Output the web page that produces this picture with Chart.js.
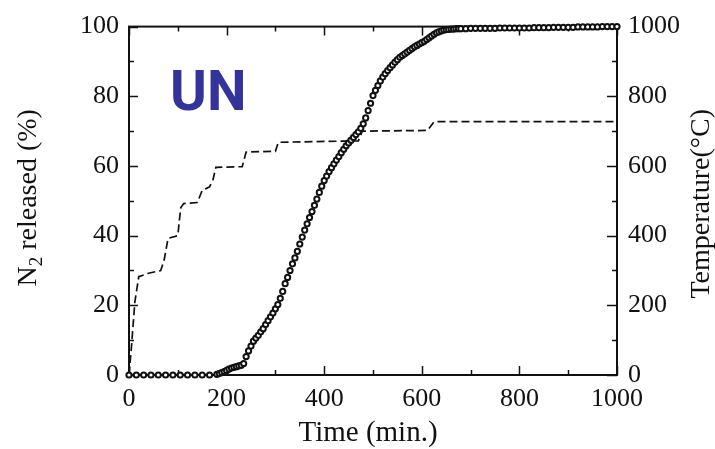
<!DOCTYPE html>
<html>
<head>
<meta charset="utf-8">
<script src="https://cdn.jsdelivr.net/npm/chart.js@4/dist/chart.umd.min.js"></script>
<style>
  html, body { margin: 0; padding: 0; background: #fff; }
  canvas { display: block; }
</style>
</head>
<body>
<canvas id="chart" width="715" height="449"></canvas>
<script>
// Nitrogen release of UN, cumulative percent, sampled against time (min)
const releaseTimes = [
  0, 15, 30, 45, 60, 75, 90, 105, 120, 135, 150, 165,
  180, 185, 190, 195, 200, 205, 210, 215, 220, 225, 230, 235, 240, 245, 250, 255,
  260, 265, 270, 275, 280, 285, 290, 295, 300, 305, 310, 315, 320, 325, 330, 335,
  340, 345, 350, 355, 360, 365, 370, 375, 380, 385, 390, 395, 400, 405, 410, 415,
  420, 425, 430, 435, 440, 445, 450, 455, 460, 465, 470, 475, 480, 485, 490, 495,
  500, 505, 510, 515, 520, 525, 530, 535, 540, 545, 550, 555, 560, 565, 570, 575,
  580, 585, 590, 595, 600, 605, 610, 615, 620, 625, 630, 635, 640, 645, 650, 655,
  660, 665, 670, 675, 680,
  690, 700, 710, 720, 730, 740, 750, 760, 770, 780, 790, 800, 810, 820, 830, 840,
  850, 860, 870, 880, 890, 900, 910, 920, 930, 940, 950, 960, 970, 980, 990, 1000
];
const releaseValues = [
  0, 0, 0, 0, 0, 0, 0, 0, 0, 0, 0, 0,
  0.2, 0.4, 0.7, 1.0, 1.3, 1.7, 2.0, 2.2, 2.4, 2.6, 2.8, 3.3, 5.3, 6.9, 8.3, 9.7,
  10.6, 11.4, 12.4, 13.3, 14.5, 15.6, 16.7, 17.8, 19.0, 20.2, 22.0, 24.0, 26.2, 28.0, 30.0, 31.9,
  33.6, 35.5, 37.6, 39.6, 41.6, 43.4, 45.2, 46.9, 48.7, 50.5, 52.4, 54.2, 55.8, 57.1, 58.4, 59.5,
  60.6, 61.7, 62.7, 63.8, 64.8, 65.8, 66.6, 67.4, 68.2, 69.0, 69.8, 70.8, 72.1, 73.8, 75.9, 78.0,
  80.2, 81.7, 83.1, 84.4, 85.5, 86.5, 87.4, 88.2, 89.0, 89.8, 90.5, 91.2, 91.7, 92.2, 92.7, 93.2,
  93.7, 94.2, 94.6, 95.0, 95.4, 95.8, 96.3, 96.8, 97.3, 97.8, 98.2, 98.5, 98.8, 99.0, 99.1, 99.2,
  99.3, 99.3, 99.4, 99.4, 99.4,
  99.4, 99.5, 99.5, 99.5, 99.5, 99.5, 99.5, 99.6, 99.6, 99.6, 99.6, 99.6, 99.6, 99.6, 99.7, 99.7,
  99.7, 99.7, 99.8, 99.8, 99.8, 99.8, 99.8, 99.9, 99.9, 99.9, 99.9, 99.9, 100, 100, 100, 100
];

// Furnace temperature programme (°C) against time (min)
const tempTimes  = [0, 5, 12, 20, 40, 65, 72, 80, 100, 106, 112, 140, 150, 165, 172, 178, 232, 240, 300, 306, 470, 478, 612, 625, 1000];
const tempValues = [0, 80, 210, 282, 292, 300, 330, 392, 400, 480, 492, 495, 530, 540, 560, 596, 598, 640, 642, 668, 672, 700, 702, 727, 727];

// Axis ranges and tick spacing
const timeRange = [0, 1000];
const releaseRange = [0, 100];
const tempRange = [0, 1000];
const timeStep = 200, releaseStep = 20, tempStep = 200;

// Labels
const xTitle = 'Time (min.)';
const yTitleMain = 'N', yTitleSub = '2', yTitleRest = ' released (%)';
const y2Title = 'Temperature(\u00B0C)';
const sampleName = 'UN';

const SERIF = "'Liberation Serif', 'Times New Roman', serif";
const INK = '#111';

// Box frame plus inward major/minor tick marks on all four sides
const frameTicks = {
  id: 'frameTicks',
  beforeDatasetsDraw(chart) {
    const { ctx, chartArea: a, scales } = chart;
    ctx.save();
    ctx.strokeStyle = INK;
    ctx.lineWidth = 1.5;
    ctx.beginPath();
    for (let t = timeRange[0]; t <= timeRange[1]; t += timeStep / 2) {
      const px = Math.round(scales.x.getPixelForValue(t)) + 0.5;
      const len = (t % timeStep === 0) ? 9 : 5;
      ctx.moveTo(px, a.bottom); ctx.lineTo(px, a.bottom - len);
      ctx.moveTo(px, a.top); ctx.lineTo(px, a.top + len);
    }
    for (let v = releaseRange[0]; v <= releaseRange[1]; v += releaseStep / 2) {
      const py = Math.round(scales.y.getPixelForValue(v)) + 0.5;
      const len = (v % releaseStep === 0) ? 9 : 5;
      ctx.moveTo(a.left, py); ctx.lineTo(a.left + len, py);
    }
    for (let v = tempRange[0]; v <= tempRange[1]; v += tempStep / 2) {
      const py = Math.round(scales.y2.getPixelForValue(v)) + 0.5;
      const len = (v % tempStep === 0) ? 10 : 5;
      ctx.moveTo(a.right, py); ctx.lineTo(a.right - len, py);
    }
    ctx.stroke();
    ctx.lineWidth = 2;
    ctx.strokeRect(a.left, a.top, a.right - a.left, a.bottom - a.top);
    ctx.restore();
  }
};

// Axis titles (both vertical titles read bottom-to-top) and the sample tag
const titles = {
  id: 'titles',
  afterDraw(chart) {
    const { ctx, chartArea: a, scales } = chart;
    const midY = (a.top + a.bottom) / 2;
    ctx.save();
    ctx.fillStyle = INK;
    ctx.textBaseline = 'alphabetic';

    // bottom title
    ctx.font = `29px ${SERIF}`;
    ctx.textAlign = 'center';
    ctx.fillText(xTitle, (a.left + a.right) / 2 - 5, 441);

    // left title with subscript
    ctx.save();
    ctx.translate(36, midY - 3);
    ctx.rotate(-Math.PI / 2);
    ctx.textAlign = 'left';
    const big = `28px ${SERIF}`, small = `19px ${SERIF}`;
    ctx.font = big;
    const wMain = ctx.measureText(yTitleMain).width;
    const wRest = ctx.measureText(yTitleRest).width;
    ctx.font = small;
    const wSub = ctx.measureText(yTitleSub).width;
    let x0 = -(wMain + wSub + wRest) / 2;
    ctx.font = big;
    ctx.fillText(yTitleMain, x0, 0);
    ctx.font = small;
    ctx.fillText(yTitleSub, x0 + wMain, 6);
    ctx.font = big;
    ctx.fillText(yTitleRest, x0 + wMain + wSub, 0);
    ctx.restore();

    // right title
    ctx.save();
    ctx.translate(709, midY + 3);
    ctx.rotate(-Math.PI / 2);
    ctx.textAlign = 'center';
    ctx.font = `28px ${SERIF}`;
    ctx.fillText(y2Title, 0, 0);
    ctx.restore();

    // sample tag
    ctx.fillStyle = '#33339a';
    ctx.textAlign = 'left';
    ctx.font = "bold 56px Roboto, 'Liberation Sans', sans-serif";
    ctx.fillText(sampleName, scales.x.getPixelForValue(84), scales.y.getPixelForValue(76));
    ctx.restore();
  }
};

const tickFont = { family: SERIF, size: 26 };
const plainNumber = (value) => String(value);

new Chart(document.getElementById('chart'), {
  type: 'line',
  data: {
    datasets: [
      {
        label: 'N2 released',
        data: releaseTimes.map((t, i) => ({ x: t, y: releaseValues[i] })),
        yAxisID: 'y',
        showLine: false,
        pointStyle: 'circle',
        pointRadius: 2.6,
        pointBorderWidth: 2,
        pointBorderColor: INK,
        pointBackgroundColor: '#fff',
        clip: false,
        order: 1
      },
      {
        label: 'Temperature',
        data: tempTimes.map((t, i) => ({ x: t, y: tempValues[i] })),
        yAxisID: 'y2',
        borderColor: INK,
        borderWidth: 1.7,
        borderDash: [8, 4],
        pointRadius: 0,
        tension: 0,
        fill: false,
        clip: false,
        order: 2
      }
    ]
  },
  options: {
    responsive: false,
    animation: false,
    devicePixelRatio: 1,
    layout: { padding: { top: 23, left: 0, right: 0, bottom: 0 } },
    plugins: { legend: { display: false }, tooltip: { enabled: false } },
    scales: {
      x: {
        type: 'linear',
        min: timeRange[0], max: timeRange[1],
        grid: { display: false, drawTicks: false },
        border: { display: false },
        ticks: { stepSize: timeStep, color: INK, font: tickFont, padding: 9, maxRotation: 0, callback: plainNumber },
        afterFit(s) { s.height = 74; }
      },
      y: {
        position: 'left',
        min: releaseRange[0], max: releaseRange[1],
        grid: { display: false, drawTicks: false },
        border: { display: false },
        ticks: { stepSize: releaseStep, color: INK, font: tickFont, padding: 10, callback: plainNumber },
        afterFit(s) { s.width = 129; }
      },
      y2: {
        position: 'right',
        min: tempRange[0], max: tempRange[1],
        grid: { display: false, drawTicks: false },
        border: { display: false },
        ticks: { stepSize: tempStep, color: INK, font: tickFont, padding: 11, callback: plainNumber },
        afterFit(s) { s.width = 98; }
      }
    }
  },
  plugins: [frameTicks, titles]
});
</script>
</body>
</html>
